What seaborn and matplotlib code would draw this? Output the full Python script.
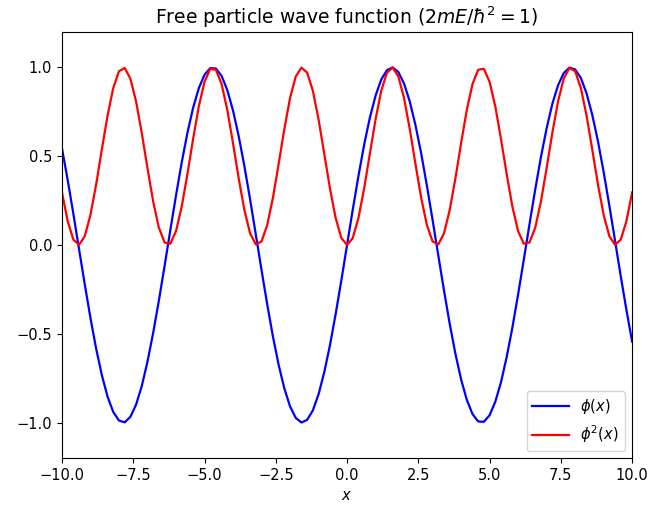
import matplotlib
matplotlib.use("Agg")
import matplotlib.pyplot as plt
import numpy as np
import pandas as pd
import seaborn as sns

# sample positions along x
x_vals = [-10.0, -9.8, -9.6, -9.4, -9.2, -9.0, -8.8, -8.6, -8.4, -8.2,
          -8.0, -7.8, -7.6, -7.4, -7.2, -7.0, -6.8, -6.6, -6.4, -6.2,
          -6.0, -5.8, -5.6, -5.4, -5.2, -5.0, -4.8, -4.6, -4.4, -4.2,
          -4.0, -3.8, -3.6, -3.4, -3.2, -3.0, -2.8, -2.6, -2.4, -2.2,
          -2.0, -1.8, -1.6, -1.4, -1.2, -1.0, -0.8, -0.6, -0.4, -0.2,
          0.0, 0.2, 0.4, 0.6, 0.8, 1.0, 1.2, 1.4, 1.6, 1.8,
          2.0, 2.2, 2.4, 2.6, 2.8, 3.0, 3.2, 3.4, 3.6, 3.8,
          4.0, 4.2, 4.4, 4.6, 4.8, 5.0, 5.2, 5.4, 5.6, 5.8,
          6.0, 6.2, 6.4, 6.6, 6.8, 7.0, 7.2, 7.4, 7.6, 7.8,
          8.0, 8.2, 8.4, 8.6, 8.8, 9.0, 9.2, 9.4, 9.6, 9.8, 10.0]

# wave function phi(x)
phi_vals = [0.544, 0.366, 0.175, -0.025, -0.223, -0.412, -0.585, -0.734, -0.855, -0.941,
            -0.989, -0.999, -0.968, -0.899, -0.794, -0.657, -0.494, -0.312, -0.117, 0.083,
            0.279, 0.465, 0.631, 0.773, 0.883, 0.959, 0.996, 0.994, 0.952, 0.872,
            0.757, 0.612, 0.443, 0.256, 0.058, -0.141, -0.335, -0.516, -0.675, -0.808,
            -0.909, -0.974, -1.000, -0.985, -0.932, -0.841, -0.717, -0.565, -0.389, -0.199,
            0.000, 0.199, 0.389, 0.565, 0.717, 0.841, 0.932, 0.985, 1.000, 0.974,
            0.909, 0.808, 0.675, 0.516, 0.335, 0.141, -0.058, -0.256, -0.443, -0.612,
            -0.757, -0.872, -0.952, -0.994, -0.996, -0.959, -0.883, -0.773, -0.631, -0.465,
            -0.279, -0.083, 0.117, 0.312, 0.494, 0.657, 0.794, 0.899, 0.968, 0.999,
            0.989, 0.941, 0.855, 0.734, 0.585, 0.412, 0.223, 0.025, -0.175, -0.366, -0.544]

# probability density phi^2(x)
phi2_vals = [0.296, 0.134, 0.030, 0.001, 0.050, 0.170, 0.342, 0.539, 0.730, 0.885,
             0.979, 0.997, 0.937, 0.808, 0.630, 0.432, 0.244, 0.097, 0.014, 0.007,
             0.078, 0.216, 0.399, 0.597, 0.781, 0.919, 0.992, 0.987, 0.906, 0.760,
             0.573, 0.374, 0.196, 0.065, 0.003, 0.020, 0.112, 0.266, 0.456, 0.653,
             0.827, 0.949, 0.999, 0.971, 0.869, 0.708, 0.514, 0.319, 0.152, 0.039,
             0.000, 0.039, 0.152, 0.319, 0.514, 0.708, 0.869, 0.971, 0.999, 0.949,
             0.827, 0.653, 0.456, 0.266, 0.112, 0.020, 0.003, 0.065, 0.196, 0.374,
             0.573, 0.760, 0.906, 0.987, 0.992, 0.919, 0.781, 0.597, 0.399, 0.216,
             0.078, 0.007, 0.014, 0.097, 0.244, 0.432, 0.630, 0.808, 0.937, 0.997,
             0.979, 0.885, 0.730, 0.539, 0.342, 0.170, 0.050, 0.001, 0.030, 0.134, 0.296]

df = pd.DataFrame({"x": x_vals, "phi": phi_vals, "phi2": phi2_vals})

fig, ax = plt.subplots(figsize=(6.49, 5.07), dpi=100)
plt.subplots_adjust(left=0.0955, right=0.974, top=0.937, bottom=0.0966)

sns.lineplot(data=df, x="x", y="phi", color="b", linewidth=1.6, label=r"$\phi(x)$", ax=ax)
sns.lineplot(data=df, x="x", y="phi2", color="r", linewidth=1.6, label=r"$\phi^2(x)$", ax=ax)

ax.set_xlim(-10, 10)
ax.set_ylim(-1.2, 1.2)
ax.set_xticks(np.arange(-10, 10.1, 2.5))
ax.set_yticks([-1.0, -0.5, 0.0, 0.5, 1.0])
ax.tick_params(labelsize=10.5)
ax.set_xlabel(r"$x$", fontsize=10.5)
ax.set_ylabel("")
ax.set_title(r"Free particle wave function ($2mE/\hbar^2=1$)", fontsize=13.5)
ax.legend(loc="lower right", handlelength=2.5, fontsize=10.5)

fig.savefig("out.png", dpi=100)
